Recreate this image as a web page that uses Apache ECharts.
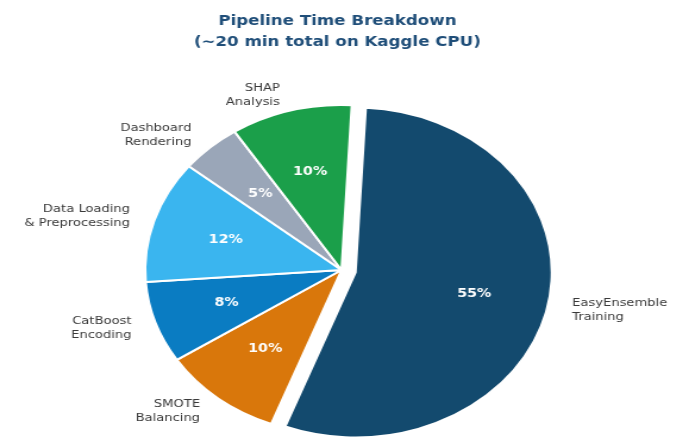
<!DOCTYPE html>
<html>
<head>
<meta charset="utf-8">
<script src="https://cdn.jsdelivr.net/npm/echarts@6/dist/echarts.min.js"></script>
<style>
  html, body { margin: 0; padding: 0; background: #ffffff; overflow: hidden; }
  #wrap { width: 675px; height: 437px; overflow: hidden; }
  /* the figure is drawn at its native aspect and widened horizontally */
  #chart { width: 567px; height: 437px; transform: scaleX(1.19); transform-origin: 0 0; }
</style>
</head>
<body>
<div id="wrap"><div id="chart"></div></div>
<script>
// Pipeline stages (clockwise from the top) and their share of runtime, in percent
const stages = [
  'EasyEnsemble\nTraining',
  'SMOTE\nBalancing',
  'CatBoost\nEncoding',
  'Data Loading\n& Preprocessing',
  'Dashboard\nRendering',
  'SHAP\nAnalysis'
];
const shares = [55, 10, 8, 12, 5, 10];
const stageColors = ['#134a6e', '#d9770b', '#0a7cc2', '#3ab5ef', '#9aa6b8', '#1b9f4a'];
const explodedStage = 0;

const titleText = 'Pipeline Time Breakdown\n(~20 min total on Kaggle CPU)';

const font = '"DejaVu Sans", sans-serif';
const center = [287, 270];
const radius = 165;
const explodeOffset = 12;

const wedgeData = stages.map((name, i) => ({
  name: name,
  value: shares[i],
  selected: i === explodedStage,
  itemStyle: { color: stageColors[i] }
}));

const pctData = stages.map((name, i) => ({
  name: name,
  value: shares[i],
  selected: i === explodedStage
}));

const chart = echarts.init(document.getElementById('chart'));
chart.setOption({
  animation: false,
  backgroundColor: '#ffffff',
  title: {
    text: titleText,
    left: 'center',
    top: 6,
    textStyle: {
      fontFamily: font,
      fontSize: 14,
      fontWeight: 'bold',
      color: '#1f4e79',
      lineHeight: 21
    }
  },
  series: [
    {
      type: 'pie',
      center: center,
      radius: radius,
      startAngle: 87,
      clockwise: true,
      avoidLabelOverlap: false,
      selectedMode: 'single',
      selectedOffset: explodeOffset,
      silent: true,
      data: wedgeData,
      itemStyle: { borderColor: '#ffffff', borderWidth: 2 },
      label: {
        show: true,
        position: 'outside',
        fontFamily: font,
        fontSize: 11,
        lineHeight: 14,
        color: '#3a3a3a'
      },
      labelLine: { show: false, length: 16, length2: 0 },
      emphasis: { disabled: true }
    },
    {
      type: 'pie',
      center: center,
      radius: [33, radius],
      startAngle: 87,
      clockwise: true,
      selectedMode: 'single',
      selectedOffset: explodeOffset,
      silent: true,
      data: pctData,
      itemStyle: { color: 'rgba(0,0,0,0)', borderWidth: 0 },
      label: {
        show: true,
        position: 'inside',
        formatter: p => p.value + '%',
        fontFamily: font,
        fontSize: 12,
        fontWeight: 'bold',
        color: '#ffffff'
      },
      labelLine: { show: false },
      emphasis: { disabled: true }
    }
  ]
});
</script>
</body>
</html>
